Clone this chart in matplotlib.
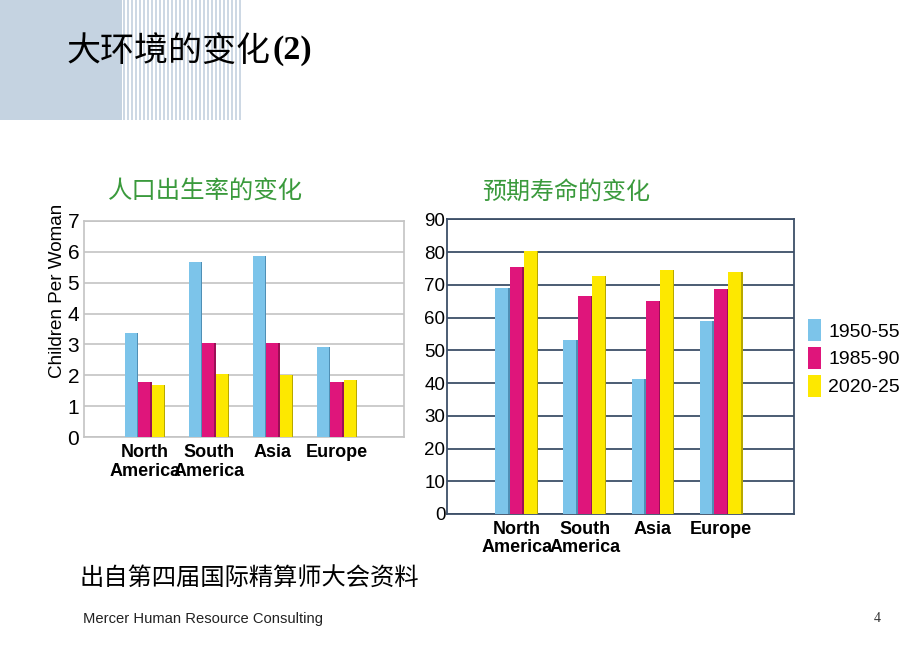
import matplotlib
matplotlib.use("Agg")
import matplotlib.pyplot as plt
from matplotlib.patches import Rectangle, Patch
from matplotlib.text import Annotation
import numpy as np

plt.rcParams['font.family'] = ['Liberation Sans', 'Noto Sans CJK SC', 'DejaVu Sans']

# ---------------- data ----------------
regions = ["North\nAmerica", "South\nAmerica", "Asia", "Europe"]
periods = ["1950-55", "1985-90", "2020-25"]
fertility_1950 = [3.36, 5.67, 5.85, 2.91]
fertility_1985 = [1.80, 3.04, 3.04, 1.80]
fertility_2020 = [1.68, 2.05, 2.01, 1.86]
life_1950 = [69.0, 53.2, 41.1, 58.8]
life_1985 = [75.3, 66.7, 64.9, 68.6]
life_2020 = [80.3, 72.6, 74.5, 73.8]
fert_ticks = [0, 1, 2, 3, 4, 5, 6, 7]
life_ticks = [0, 10, 20, 30, 40, 50, 60, 70, 80, 90]

title_main = "大环境的变化"
title_suffix = "(2)"
title_left = "人口出生率的变化"
title_right = "预期寿命的变化"
ylabel_left = "Children Per Woman"
source_text = "出自第四届国际精算师大会资料"
footer_text = "Mercer Human Resource Consulting"
page_no = "4"

colors = ["#7cc4ea", "#df157b", "#fde800"]
shades = ["#4f8fb5", "#9c0f55", "#b8a800"]

W, H = 920, 658
fig = plt.figure(figsize=(W / 100, H / 100), dpi=100)
fig.patch.set_facecolor("white")

def fx(px):
    return px / W

def fy(py):
    return 1 - py / H

# header decoration
fig.patches.append(Rectangle((0, fy(120)), fx(122), 120 / H, transform=fig.transFigure,
                             facecolor="#c5d3e1", edgecolor="none", zorder=0))
for xs in np.arange(123, 241, 4):
    fig.patches.append(Rectangle((fx(xs), fy(120)), fx(2), 120 / H, transform=fig.transFigure,
                                 facecolor="#cdd8e4", edgecolor="none", zorder=0))

t_main = fig.text(fx(67), fy(51), title_main, fontsize=24.5, color="black",
                  family=['Noto Sans CJK SC'], va="center", ha="left", weight="medium")
ann = Annotation(title_suffix, xy=(1.0, 0.5), xycoords=t_main, xytext=(1, 0),
                 textcoords="offset points", fontsize=24.5, color="black",
                 family=['Liberation Serif'], weight="bold", va="center", ha="left",
                 annotation_clip=False)
fig.add_artist(ann)


def draw_bars(ax, vals_list, width):
    x = np.arange(len(regions))
    offsets = [-width, 0, width]
    for vals, off, c, s, lab in zip(vals_list, offsets, colors, shades, periods):
        ax.bar(x + off, vals, width=width, color=c, edgecolor="none", zorder=3, label=lab)
        ax.bar(x + off + width / 2 - 0.022, vals, width=0.022, align="edge",
               color=s, edgecolor="none", zorder=4)
    ax.set_xticks(x)
    ax.set_xticklabels(regions, fontsize=13, fontweight="bold", linespacing=1.1)
    ax.tick_params(axis="x", length=0, pad=5)


# ---------------- left chart ----------------
ax1 = fig.add_axes([fx(84), fy(437.3), fx(320), 216.6 / H])
draw_bars(ax1, [fertility_1950, fertility_1985, fertility_2020], 0.21)
ax1.set_xlim(-0.95, 4.05)
ax1.set_ylim(0, 7)
ax1.set_yticks(fert_ticks)
ax1.tick_params(axis="y", length=0, pad=3.5, labelsize=15)
ax1.yaxis.grid(True, color="#c4c4c4", linewidth=1.2, zorder=0)
for sp in ax1.spines.values():
    sp.set_color("#c4c4c4")
    sp.set_linewidth(1.2)
ax1.set_ylabel(ylabel_left, fontsize=13.6)
ax1.yaxis.set_label_coords(-0.056, 0.675)
fig.text(fx(108), fy(192), title_left, fontsize=17.6, color="#3a9a3c", va="center", ha="left")

# ---------------- right chart ----------------
ax2 = fig.add_axes([fx(446.7), fy(514), fx(347.3), 294.7 / H])
draw_bars(ax2, [life_1950, life_1985, life_2020], 0.21)
ax2.set_xlim(-1.03, 4.07)
ax2.set_ylim(0, 90)
ax2.set_yticks(life_ticks)
ax2.tick_params(axis="y", length=0, pad=1, labelsize=13.5)
ax2.yaxis.grid(True, color="#3d4f68", linewidth=1.3, zorder=0)
for sp in ax2.spines.values():
    sp.set_color("#3d4f68")
    sp.set_linewidth(1.3)
fig.text(fx(482), fy(192), title_right, fontsize=17.3, color="#3a9a3c", va="center", ha="left")

handles = [Patch(facecolor=c, edgecolor="none") for c in colors]
fig.legend(handles, periods, loc="center left", bbox_to_anchor=(fx(800), fy(358)),
           frameon=False, fontsize=14, handlelength=0.7, handleheight=1.4,
           handletextpad=0.35, labelspacing=0.28, borderaxespad=0)

# ---------------- footer ----------------
fig.text(fx(80), fy(579), source_text, fontsize=17.5, color="black", va="center", ha="left",
         style="italic")
fig.text(fx(83), fy(619), footer_text, fontsize=10.6, color="#222222", va="center", ha="left")
fig.text(fx(874), fy(619), page_no, fontsize=10, color="#333333", va="center", ha="left",
         family=['Liberation Serif'])

fig.savefig("out.png", dpi=100, facecolor="white")
